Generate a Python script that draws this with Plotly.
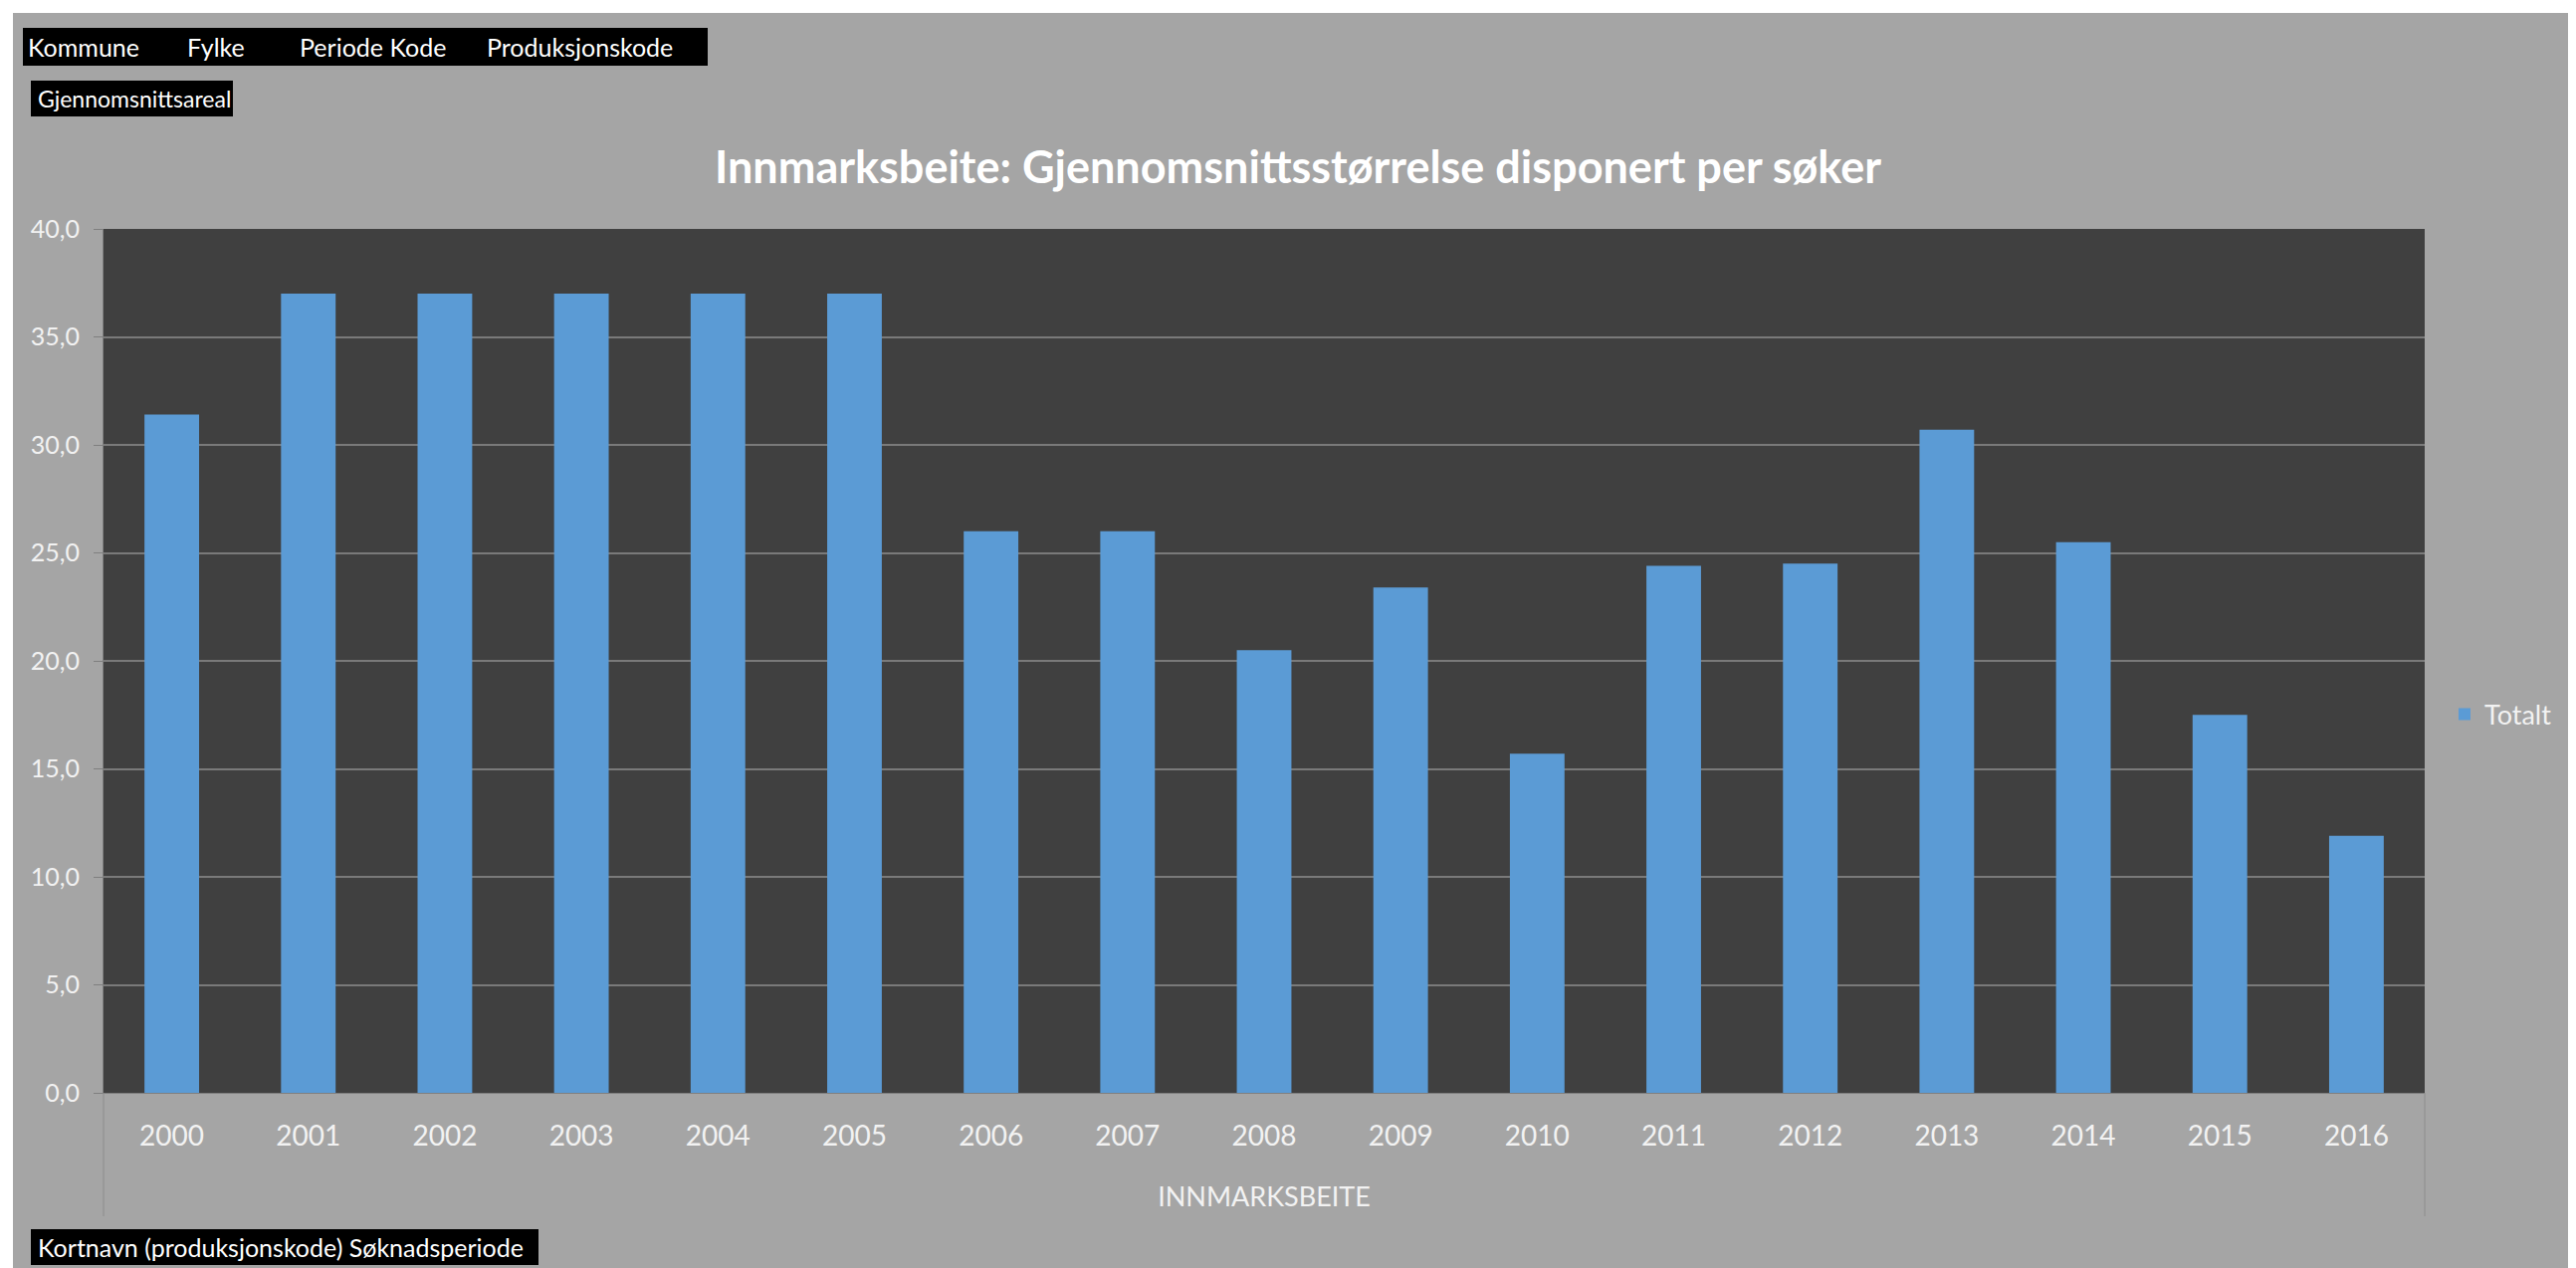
import plotly.graph_objects as go

# Data
years = ["2000", "2001", "2002", "2003", "2004", "2005", "2006", "2007", "2008",
         "2009", "2010", "2011", "2012", "2013", "2014", "2015", "2016"]
gjennomsnitt = [31.4, 37.0, 37.0, 37.0, 37.0, 37.0, 26.0, 26.0, 20.5,
                23.4, 15.7, 24.4, 24.5, 30.7, 25.5, 17.5, 11.9]
y_ticks = [0, 5, 10, 15, 20, 25, 30, 35, 40]
filter_fields = ["Kommune", "Fylke", "Periode Kode", "Produksjonskode"]
value_field = "Gjennomsnittsareal"
axis_field = "Kortnavn (produksjonskode) Søknadsperiode"
outer_category = "INNMARKSBEITE"
series_name = "Totalt"
title_text = "Innmarksbeite: Gjennomsnittsstørrelse disponert per søker"

FONT = "Lato"
W, H = 2580, 1266           # figure size (page has 8px body margin)
L, R, T, B = 96, 152, 222, 176
PW, PH = W - L - R, H - T - B


def px(x_page):
    # page pixel -> paper x
    return (x_page - 8 - L) / PW


def py(y_page):
    # page pixel -> paper y
    return (H - B - (y_page - 8)) / PH


def grafico_barras():
    fig = go.Figure()
    fig.add_trace(go.Bar(
        x=years,
        y=gjennomsnitt,
        name=series_name,
        marker=dict(color="#5B9BD5", line=dict(width=0)),
        width=0.4,
        showlegend=True,
    ))

    fig.update_layout(
        width=W,
        height=H,
        margin=dict(l=L, r=R, t=T, b=B, autoexpand=False),
        paper_bgcolor="#a5a5a5",
        plot_bgcolor="#404040",
        separators=", ",
        font=dict(family=FONT, color="#f2f2f2"),
        title=dict(
            text="<b>" + title_text + "</b>",
            x=1296 / W, xanchor="center",
            y=1 - 160 / H, yanchor="middle",
            font=dict(family=FONT, size=45, color="#ffffff"),
        ),
        xaxis=dict(
            type="category",
            range=[-0.5, 16.5],
            showgrid=False,
            showline=True,
            linecolor="#7f7f7f",
            linewidth=1,
            ticks="",
            ticklabelstandoff=18,
            tickfont=dict(family=FONT, size=28, color="#f2f2f2"),
            title=dict(text=outer_category, standoff=37,
                       font=dict(family=FONT, size=27, color="#f2f2f2")),
        ),
        xaxis2=dict(
            overlaying="x",
            anchor="y",
            side="bottom",
            type="linear",
            range=[-0.5, 16.5],
            tickmode="linear",
            tick0=0.5,
            dtick=1,
            ticks="outside",
            ticklen=62,
            tickcolor="#8c8c8c",
            tickwidth=1,
            showticklabels=False,
            showgrid=False,
            zeroline=False,
            showline=False,
        ),
        yaxis=dict(
            range=[0, 40],
            tickvals=y_ticks,
            tickformat=".1f",
            showgrid=True,
            gridcolor="#7a7a7a",
            gridwidth=2,
            zeroline=False,
            showline=True,
            linecolor="#7f7f7f",
            ticks="outside",
            ticklen=9,
            tickcolor="#7f7f7f",
            ticklabelstandoff=9,
            tickfont=dict(family=FONT, size=25, color="#f2f2f2"),
        ),
        legend=dict(
            x=px(2456), xanchor="left",
            y=py(718), yanchor="middle",
            bgcolor="rgba(0,0,0,0)",
            font=dict(family=FONT, size=27, color="#f2f2f2"),
        ),
        bargap=0.6,
    )

    shapes = []
    # long lines at both ends of the category axis
    for xe in (0, 1):
        shapes.append(dict(type="line", xref="paper", yref="paper",
                           x0=xe, x1=xe, y0=0, y1=py(1222),
                           line=dict(color="#8c8c8c", width=1)))
    # white page strip on top and left side
    shapes.append(dict(type="rect", xref="paper", yref="paper",
                       x0=px(0), x1=px(13), y0=py(1274), y1=py(0),
                       fillcolor="#ffffff", line=dict(width=0), layer="above"))
    shapes.append(dict(type="rect", xref="paper", yref="paper",
                       x0=px(0), x1=px(2588), y0=py(13), y1=py(0),
                       fillcolor="#ffffff", line=dict(width=0), layer="above"))
    # black field buttons of the pivot chart
    for (x0, y0, x1, y1) in [(23, 28, 711, 66), (31, 81, 234, 117), (31, 1235, 541, 1271)]:
        shapes.append(dict(type="rect", xref="paper", yref="paper",
                           x0=px(x0), x1=px(x1), y0=py(y1), y1=py(y0),
                           fillcolor="#000000", line=dict(width=0), layer="above"))
    fig.update_layout(shapes=shapes)

    annotations = []
    for name, xt in zip(filter_fields, [26, 186, 299, 487]):
        annotations.append(dict(text=name, x=px(xt), y=py(47), size=25))
    annotations.append(dict(text=value_field, x=px(36), y=py(99), size=23))
    annotations.append(dict(text=axis_field, x=px(36), y=py(1253), size=25))
    for a in annotations:
        size = a.pop("size")
        a.update(xref="paper", yref="paper", xanchor="left", yanchor="middle",
                 showarrow=False, font=dict(family=FONT, size=size, color="#ffffff"))
    fig.update_layout(annotations=annotations)

    return fig


fig = grafico_barras()
fig.write_html("out.html")
